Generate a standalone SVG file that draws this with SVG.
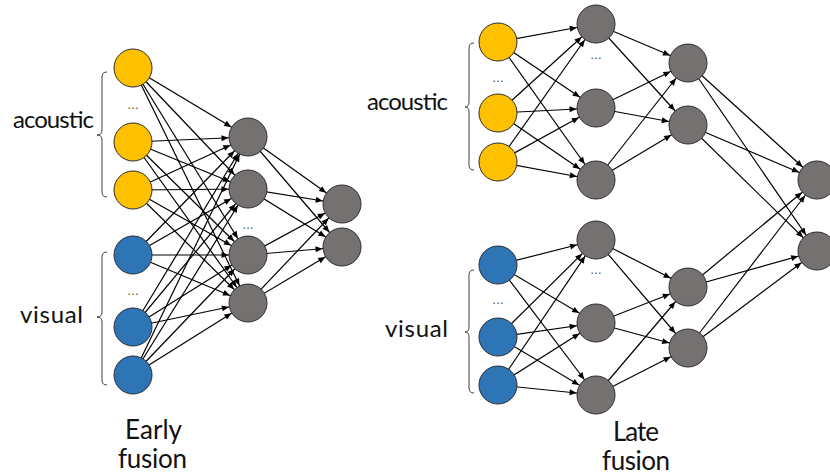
<svg xmlns="http://www.w3.org/2000/svg" width="830" height="476" viewBox="0 0 830 476">
  <style>
    .edge { stroke: #000; stroke-width: 1.2; fill: none; marker-end: url(#arrow); }
    .node { stroke: #2b2b2b; stroke-width: 1; }
    .ac { fill: #FFC000; }
    .vi { fill: #2E75B6; }
    .hid { fill: #767171; }
    .brace { stroke: #404040; stroke-width: 1; fill: none; }
    .lbl { font-family: Lato, "Open Sans", sans-serif; fill: #111; text-anchor: middle; }
    .side { font-size: 24px; }
    .cap { font-size: 26px; }
    .dots { font-family: "Liberation Sans", sans-serif; font-size: 12px; fill: #444; text-anchor: middle; }
  </style>
  <defs>
    <!-- tip sits on the rim of a r=19 circle when the line ends at its centre -->
    <marker id="arrow" markerUnits="userSpaceOnUse" markerWidth="10" markerHeight="8" refX="19.5" refY="0" orient="auto" overflow="visible">
      <path d="M-7,-3 L0,0 L-7,3 z" fill="#000"/>
    </marker>
  </defs>
  <rect width="830" height="476" fill="#fff"/>

  <g id="connectors">
    <!-- early fusion: inputs -> hidden -->
    <line class="edge" x1="133" y1="68" x2="248" y2="137"/>
    <line class="edge" x1="133" y1="68" x2="248" y2="189"/>
    <line class="edge" x1="133" y1="68" x2="248" y2="255"/>
    <line class="edge" x1="133" y1="68" x2="248" y2="303"/>
    <line class="edge" x1="133" y1="142" x2="248" y2="137"/>
    <line class="edge" x1="133" y1="142" x2="248" y2="189"/>
    <line class="edge" x1="133" y1="142" x2="248" y2="255"/>
    <line class="edge" x1="133" y1="142" x2="248" y2="303"/>
    <line class="edge" x1="133" y1="190" x2="248" y2="137"/>
    <line class="edge" x1="133" y1="190" x2="248" y2="189"/>
    <line class="edge" x1="133" y1="190" x2="248" y2="255"/>
    <line class="edge" x1="133" y1="190" x2="248" y2="303"/>
    <line class="edge" x1="133" y1="255" x2="248" y2="137"/>
    <line class="edge" x1="133" y1="255" x2="248" y2="189"/>
    <line class="edge" x1="133" y1="255" x2="248" y2="255"/>
    <line class="edge" x1="133" y1="255" x2="248" y2="303"/>
    <line class="edge" x1="133" y1="327" x2="248" y2="137"/>
    <line class="edge" x1="133" y1="327" x2="248" y2="189"/>
    <line class="edge" x1="133" y1="327" x2="248" y2="255"/>
    <line class="edge" x1="133" y1="327" x2="248" y2="303"/>
    <line class="edge" x1="133" y1="375" x2="248" y2="137"/>
    <line class="edge" x1="133" y1="375" x2="248" y2="189"/>
    <line class="edge" x1="133" y1="375" x2="248" y2="255"/>
    <line class="edge" x1="133" y1="375" x2="248" y2="303"/>
    <!-- early fusion: hidden -> output -->
    <line class="edge" x1="248" y1="137" x2="342" y2="204"/>
    <line class="edge" x1="248" y1="137" x2="342" y2="247"/>
    <line class="edge" x1="248" y1="189" x2="342" y2="204"/>
    <line class="edge" x1="248" y1="189" x2="342" y2="247"/>
    <line class="edge" x1="248" y1="255" x2="342" y2="204"/>
    <line class="edge" x1="248" y1="255" x2="342" y2="247"/>
    <line class="edge" x1="248" y1="303" x2="342" y2="204"/>
    <line class="edge" x1="248" y1="303" x2="342" y2="247"/>

    <!-- late fusion: acoustic branch -->
    <line class="edge" x1="498" y1="42" x2="596" y2="24"/>
    <line class="edge" x1="498" y1="42" x2="596" y2="108"/>
    <line class="edge" x1="498" y1="42" x2="596" y2="180"/>
    <line class="edge" x1="498" y1="113" x2="596" y2="24"/>
    <line class="edge" x1="498" y1="113" x2="596" y2="108"/>
    <line class="edge" x1="498" y1="113" x2="596" y2="180"/>
    <line class="edge" x1="498" y1="162" x2="596" y2="24"/>
    <line class="edge" x1="498" y1="162" x2="596" y2="108"/>
    <line class="edge" x1="498" y1="162" x2="596" y2="180"/>
    <line class="edge" x1="596" y1="24" x2="688" y2="63"/>
    <line class="edge" x1="596" y1="24" x2="688" y2="125"/>
    <line class="edge" x1="596" y1="108" x2="688" y2="63"/>
    <line class="edge" x1="596" y1="108" x2="688" y2="125"/>
    <line class="edge" x1="596" y1="180" x2="688" y2="63"/>
    <line class="edge" x1="596" y1="180" x2="688" y2="125"/>
    <!-- late fusion: visual branch -->
    <line class="edge" x1="498" y1="265" x2="596" y2="240"/>
    <line class="edge" x1="498" y1="265" x2="596" y2="323"/>
    <line class="edge" x1="498" y1="265" x2="596" y2="395"/>
    <line class="edge" x1="498" y1="337" x2="596" y2="240"/>
    <line class="edge" x1="498" y1="337" x2="596" y2="323"/>
    <line class="edge" x1="498" y1="337" x2="596" y2="395"/>
    <line class="edge" x1="498" y1="385" x2="596" y2="240"/>
    <line class="edge" x1="498" y1="385" x2="596" y2="323"/>
    <line class="edge" x1="498" y1="385" x2="596" y2="395"/>
    <line class="edge" x1="596" y1="240" x2="688" y2="287"/>
    <line class="edge" x1="596" y1="240" x2="688" y2="348"/>
    <line class="edge" x1="596" y1="323" x2="688" y2="287"/>
    <line class="edge" x1="596" y1="323" x2="688" y2="348"/>
    <line class="edge" x1="596" y1="395" x2="688" y2="287"/>
    <line class="edge" x1="596" y1="395" x2="688" y2="348"/>
    <!-- late fusion: merge -->
    <line class="edge" x1="688" y1="63" x2="817" y2="180"/>
    <line class="edge" x1="688" y1="63" x2="817" y2="251"/>
    <line class="edge" x1="688" y1="125" x2="817" y2="180"/>
    <line class="edge" x1="688" y1="125" x2="817" y2="251"/>
    <line class="edge" x1="688" y1="287" x2="817" y2="180"/>
    <line class="edge" x1="688" y1="287" x2="817" y2="251"/>
    <line class="edge" x1="688" y1="348" x2="817" y2="180"/>
    <line class="edge" x1="688" y1="348" x2="817" y2="251"/>
  </g>

  <!-- early fusion nodes -->
  <g id="early-acoustic-1"><circle class="node ac" cx="133" cy="68" r="19"/></g>
  <g id="early-acoustic-2"><circle class="node ac" cx="133" cy="142" r="19"/></g>
  <g id="early-acoustic-3"><circle class="node ac" cx="133" cy="190" r="19"/></g>
  <g id="early-visual-1"><circle class="node vi" cx="133" cy="255" r="19"/></g>
  <g id="early-visual-2"><circle class="node vi" cx="133" cy="327" r="19"/></g>
  <g id="early-visual-3"><circle class="node vi" cx="133" cy="375" r="19"/></g>
  <g id="early-hidden-1"><circle class="node hid" cx="248" cy="137" r="19"/></g>
  <g id="early-hidden-2"><circle class="node hid" cx="248" cy="189" r="19"/></g>
  <g id="early-hidden-3"><circle class="node hid" cx="248" cy="255" r="19"/></g>
  <g id="early-hidden-4"><circle class="node hid" cx="248" cy="303" r="19"/></g>
  <g id="early-out-1"><circle class="node hid" cx="342" cy="204" r="19"/></g>
  <g id="early-out-2"><circle class="node hid" cx="342" cy="247" r="19"/></g>

  <!-- late fusion nodes -->
  <g id="late-acoustic-1"><circle class="node ac" cx="498" cy="42" r="19"/></g>
  <g id="late-acoustic-2"><circle class="node ac" cx="498" cy="113" r="19"/></g>
  <g id="late-acoustic-3"><circle class="node ac" cx="498" cy="162" r="19"/></g>
  <g id="late-visual-1"><circle class="node vi" cx="498" cy="265" r="19"/></g>
  <g id="late-visual-2"><circle class="node vi" cx="498" cy="337" r="19"/></g>
  <g id="late-visual-3"><circle class="node vi" cx="498" cy="385" r="19"/></g>
  <g id="late-a-hidden-1"><circle class="node hid" cx="596" cy="24" r="19"/></g>
  <g id="late-a-hidden-2"><circle class="node hid" cx="596" cy="108" r="19"/></g>
  <g id="late-a-hidden-3"><circle class="node hid" cx="596" cy="180" r="19"/></g>
  <g id="late-v-hidden-1"><circle class="node hid" cx="596" cy="240" r="19"/></g>
  <g id="late-v-hidden-2"><circle class="node hid" cx="596" cy="323" r="19"/></g>
  <g id="late-v-hidden-3"><circle class="node hid" cx="596" cy="395" r="19"/></g>
  <g id="late-a-top-1"><circle class="node hid" cx="688" cy="63" r="19"/></g>
  <g id="late-a-top-2"><circle class="node hid" cx="688" cy="125" r="19"/></g>
  <g id="late-v-top-1"><circle class="node hid" cx="688" cy="287" r="19"/></g>
  <g id="late-v-top-2"><circle class="node hid" cx="688" cy="348" r="19"/></g>
  <g id="late-out-1"><circle class="node hid" cx="817" cy="180" r="19"/></g>
  <g id="late-out-2"><circle class="node hid" cx="817" cy="251" r="19"/></g>

  <!-- ellipsis marks between units -->
  <g id="ellipses">
    <text class="dots" x="133" y="109">…</text>
    <text class="dots" x="133" y="295">…</text>
    <text class="dots" x="248" y="229">…</text>
    <text class="dots" x="498" y="82">…</text>
    <text class="dots" x="498" y="304">…</text>
    <text class="dots" x="596" y="59">…</text>
    <text class="dots" x="596" y="274">…</text>
  </g>

  <!-- input group braces -->
  <g id="braces">
    <path class="brace" d="M107,72 Q102,72 102,77 L102,130 Q102,135 97,135 Q102,135 102,140 L102,192 Q102,197 107,197"/>
    <path class="brace" d="M107,252 Q102,252 102,257 L102,312 Q102,317 97,317 Q102,317 102,322 L102,380 Q102,385 107,385"/>
    <path class="brace" d="M474,43 Q469,43 469,48 L469,102 Q469,107 465,107 Q469,107 469,112 L469,165 Q469,170 474,170"/>
    <path class="brace" d="M474,270 Q469,270 469,275 L469,327 Q469,332 465,332 Q469,332 469,337 L469,388 Q469,393 474,393"/>
  </g>

  <g id="labels">
    <text class="lbl side" x="53.5" y="128" textLength="81">acoustic</text>
    <text class="lbl side" x="51.5" y="323" textLength="63">visual</text>
    <text class="lbl side" x="407.5" y="110" textLength="81">acoustic</text>
    <text class="lbl side" x="416.5" y="337" textLength="63">visual</text>
    <text class="lbl cap" x="153.5" y="438.5" textLength="57">Early</text>
    <text class="lbl cap" x="152.5" y="467.5" textLength="69">fusion</text>
    <text class="lbl cap" x="636" y="441" textLength="46">Late</text>
    <text class="lbl cap" x="636" y="470" textLength="68">fusion</text>
  </g>
</svg>
